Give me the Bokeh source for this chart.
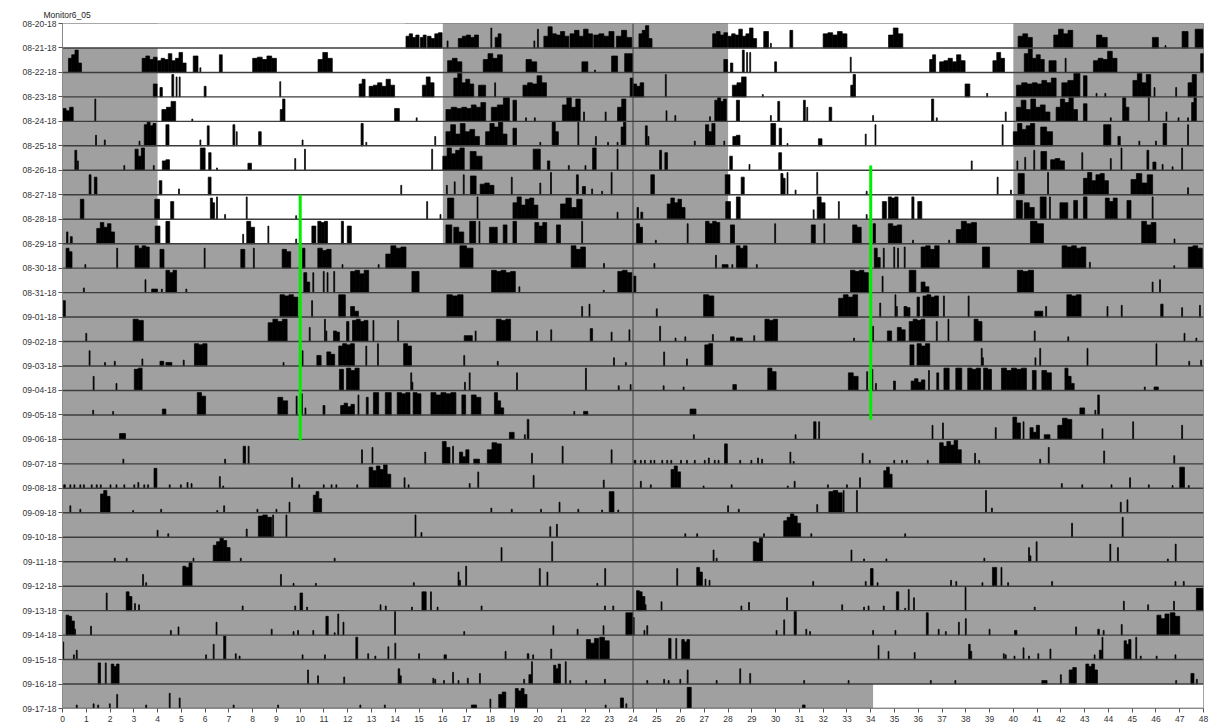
from bokeh.plotting import figure
from bokeh.models import FixedTicker, Range1d, ColumnDataSource
from bokeh.embed import file_html
from bokeh.resources import INLINE

# Row labels (one per day boundary)
DATES = ["08-20-18", "08-21-18", "08-22-18", "08-23-18", "08-24-18", "08-25-18",
         "08-26-18", "08-27-18", "08-28-18", "08-29-18", "08-30-18", "08-31-18",
         "09-01-18", "09-02-18", "09-03-18", "09-04-18", "09-05-18", "09-06-18",
         "09-07-18", "09-08-18", "09-09-18", "09-10-18", "09-11-18", "09-12-18",
         "09-13-18", "09-14-18", "09-15-18", "09-16-18", "09-17-18"]
HOUR_TICKS = list(range(49))

# Light schedule: LD 12:12 (lights 04:00-16:00) for the first nine days, then DD
LIGHTS_ON = 4.0
LIGHTS_OFF = 16.0
LD_DAY_COUNT = 9
RECORD_START = 14.4   # hour of first recorded bin on the first day
RECORD_END = 10.1     # hour of last recorded bin on the last day

# Activity per day: (hour, height) single bins, or (start, end, height | [heights...]) bouts.
# Heights are a fraction of the row height.
D0820 = [(14.45, 15.0, [0.5, 0.6, 0.45, 0.55]), (15.05, 15.3, [0.45, 0.55]),
         (15.35, 15.97, [0.5, 0.4, 0.6, 0.65]), (16.2, 0.3),
         (16.65, 17.5, [0.4, 0.5, 0.55, 0.45, 0.55]), (18.04, 0.85), (18.2, 18.45, [0.45, 0.6]),
         (19.85, 0.3), (20.0, 0.8), (20.25, 21.3, [0.5, 0.9, 0.6, 0.55, 0.7, 0.5]),
         (21.35, 22.3, [0.6, 0.75, 0.5, 0.8, 0.6]), (22.35, 23.2, [0.55, 0.6, 0.5, 0.7]),
         (23.3, 23.95, [0.5, 0.75, 0.45])]
D0821 = [(0.25, 0.8, [0.6, 0.75, 0.95, 0.4]), (3.35, 3.98, [0.6, 0.7, 0.55, 0.65]),
         (4.0, 5.2, [0.5, 0.6, 0.55, 0.8, 0.5, 0.6, 0.85, 0.4]), (5.5, 5.7, 0.7), (5.8, 0.2),
         (6.6, 6.72, 0.75), (8.0, 9.0, [0.6, 0.65, 0.55, 0.7, 0.6]), (10.75, 11.35, [0.55, 0.85, 0.6]),
         (16.2, 16.8, [0.5, 0.6, 0.45]), (17.7, 18.5, [0.55, 0.8, 0.6, 0.75]),
         (19.5, 19.95, [0.55, 0.45]), (21.85, 22.1, 0.45), (22.4, 0.1),
         (23.1, 23.35, 0.7), (23.65, 23.98, 0.8)]
D0822 = [(3.82, 3.98, 0.55), (4.1, 4.2, 0.4), (4.6, 4.68, 0.95), (4.8, 0.85), (4.93, 0.85),
         (5.96, 6.04, 0.45), (9.16, 0.65), (12.48, 12.73, [0.55, 0.75]),
         (12.9, 13.97, [0.45, 0.5, 0.6, 0.45, 0.75, 0.5]), (15.14, 15.63, [0.5, 0.85, 0.6]),
         (16.46, 17.3, [0.8, 1.0, 0.6, 0.75, 0.55]), (17.5, 17.8, 0.5), (18.2, 0.6),
         (19.37, 20.36, [0.5, 0.6, 0.55, 0.9, 0.6]), (23.88, 24.0, 0.8)]
D0823 = [(0.0, 0.45, [0.55, 0.45, 0.6]), (1.38, 0.95), (4.18, 4.76, [0.5, 0.6, 0.85]), (5.46, 0.1),
         (9.16, 9.36, [0.5, 0.95]), (13.97, 14.17, 0.55), (14.9, 0.15),
         (16.13, 16.8, [0.5, 0.6, 0.55]), (16.8, 17.8, [0.6, 0.55, 0.7, 0.6, 0.8]),
         (18.04, 18.8, [0.6, 0.7, 1.0]), (18.95, 19.1, 0.9), (19.5, 0.15), (19.87, 0.15),
         (21.03, 21.78, [0.7, 1.0, 0.6, 0.95]), (21.94, 0.4), (22.85, 0.4), (23.35, 23.7, [0.6, 0.95])]
D0824 = [(1.41, 0.45), (1.78, 0.25), (3.24, 0.2), (3.44, 3.93, [0.9, 1.0, 0.85, 0.95]),
         (4.35, 4.48, 0.9), (5.8, 0.25), (6.09, 6.17, 0.85), (7.17, 7.25, 0.9), (7.33, 0.6),
         (8.25, 8.36, 0.6), (10.1, 0.25), (12.56, 12.65, 0.95), (12.78, 0.15), (15.68, 0.4),
         (16.13, 17.54, [0.6, 0.9, 0.5, 0.95, 0.6, 0.7, 0.4]), (17.8, 18.7, [0.6, 0.95, 0.8, 1.0, 0.5]),
         (18.95, 19.1, 0.75), (20.1, 0.15), (20.6, 20.86, [1.0, 0.6]), (21.7, 1.0), (22.44, 0.4),
         (22.95, 0.15), (23.35, 0.15), (23.5, 23.7, [0.8, 1.0])]
D0825 = [(0.52, 0.6, 0.85), (0.65, 0.4), (2.6, 0.2), (3.05, 3.45, [0.9, 0.6, 0.95]), (3.84, 0.2),
         (4.2, 4.5, [0.4, 0.45]), (5.8, 6.0, 0.95), (6.15, 6.25, 0.75), (6.5, 0.1), (7.8, 7.95, 0.3),
         (9.79, 0.5), (10.2, 0.9), (15.55, 0.9), (16.0, 16.9, [0.6, 0.95, 0.7, 0.85, 0.95]),
         (17.15, 17.65, [0.8, 0.6]), (19.8, 20.1, 0.9), (20.4, 20.5, 0.4), (21.3, 0.2), (22.0, 0.2),
         (22.3, 22.45, 0.95), (23.35, 0.9)]
D0826 = [(1.12, 1.2, 0.85), (1.34, 1.45, 0.75), (4.07, 4.18, 0.6), (4.9, 0.25), (6.13, 6.25, 0.75),
         (14.25, 0.4), (16.17, 0.4), (16.5, 0.55), (16.88, 0.85), (17.16, 17.4, 0.8),
         (17.57, 18.15, [0.45, 0.5, 0.4]), (18.9, 0.75), (20.1, 0.5), (20.55, 0.95),
         (21.62, 21.7, 0.85), (21.87, 22.0, 0.35), (22.28, 0.25), (22.7, 0.15), (23.1, 0.95)]
D0827 = [(0.75, 0.9, 0.85), (3.88, 4.08, 0.85), (4.55, 4.68, 0.75), (6.22, 6.4, [0.9, 0.7]),
         (6.5, 0.95), (6.84, 0.2), (7.75, 0.95), (9.83, 0.15), (15.34, 0.75), (15.9, 0.2),
         (16.2, 16.46, 0.9), (17.46, 0.95), (18.95, 20.0, [0.7, 0.95, 0.6, 0.85, 0.9, 0.6]),
         (20.95, 21.86, [0.65, 0.9, 0.5, 0.85]), (23.35, 0.3)]
D0828 = [(0.17, 0.23, 0.5), (0.33, 0.41, 0.3), (1.44, 2.19, [0.65, 0.9, 0.7, 0.85, 0.5]),
         (3.9, 4.1, 0.75), (4.35, 4.51, 0.95), (7.6, 0.4), (7.75, 8.08, [0.95, 0.7]), (8.66, 0.75),
         (9.83, 0.2), (10.49, 10.66, 0.75), (10.74, 11.15, [0.95, 0.9, 0.95]), (11.73, 11.82, 0.95),
         (11.98, 12.15, 0.75), (16.13, 16.38, 0.8), (16.46, 16.88, [0.7, 0.5]), (17.13, 17.38, 0.95),
         (17.54, 0.95), (17.96, 18.29, 0.7), (18.54, 18.7, 0.8), (18.95, 19.1, 0.95),
         (19.87, 20.37, [0.9, 0.75, 0.9]), (20.78, 20.95, 0.8), (21.86, 0.95)]
D0829 = [(0.15, 0.4, [0.85, 0.7]), (0.96, 0.15), (2.3, 0.85), (3.05, 3.65, [0.95, 0.85, 0.95, 0.9]),
         (4.1, 4.27, 0.8), (5.98, 0.85), (7.5, 7.67, 0.8), (8.05, 0.85), (9.24, 9.6, [0.8, 0.7]),
         (10.1, 10.2, 0.85), (10.74, 11.3, [0.85, 0.75, 0.8]), (11.78, 0.15), (13.3, 0.15),
         (13.6, 14.45, [0.6, 0.95, 0.85, 0.9]), (16.72, 17.27, [0.95, 0.85]),
         (21.4, 22.0, [0.95, 0.8, 0.9]), (22.78, 0.2)]
D0830 = [(0.9, 0.2), (3.49, 0.55), (3.75, 4.0, 0.15), (4.18, 0.15), (4.35, 4.8, [0.95, 0.85, 0.95]),
         (5.21, 0.15), (10.15, 10.4, [0.85, 0.45]), (10.55, 0.85), (10.99, 0.9), (11.15, 0.85),
         (11.43, 0.9), (12.12, 12.88, [0.9, 0.95, 0.8, 0.95]), (14.7, 15.0, 0.9),
         (18.05, 19.05, [0.95, 0.9, 0.95, 0.85, 0.9]), (19.22, 0.25), (22.77, 0.1),
         (23.36, 23.95, [0.9, 0.95, 0.85])]
D0831 = [(0.03, 0.12, 0.7), (9.15, 9.9, [0.95, 0.9, 0.95, 0.85]), (10.5, 0.7), (11.62, 11.9, 0.95),
         (12.12, 12.45, [0.45, 0.25]), (16.17, 16.85, [0.95, 0.9, 0.95]), (21.86, 0.45), (22.17, 0.55)]
D0901 = [(1.0, 0.35), (2.97, 3.4, [0.95, 0.9]), (8.65, 9.45, [0.8, 0.95, 0.85, 0.95]), (10.4, 0.6),
         (11.04, 0.95), (11.1, 0.45), (11.4, 11.65, [0.45, 0.4]), (11.95, 12.05, 0.85),
         (12.2, 12.85, [0.9, 0.95, 0.85, 0.9]), (13.08, 0.9), (14.12, 0.9), (16.9, 17.24, 0.25),
         (17.38, 0.45), (18.25, 18.85, [0.95, 0.9, 0.95]), (19.96, 0.45), (20.56, 0.5),
         (22.2, 22.3, 0.55), (23.1, 0.4), (23.85, 0.5)]
D0902 = [(1.14, 0.65), (1.79, 0.15), (2.2, 0.2), (3.36, 0.3), (4.1, 4.26, 0.2), (4.35, 4.6, 0.15),
         (5.1, 0.25), (5.55, 6.08, [0.95, 0.9, 0.95]), (9.3, 0.15), (10.1, 0.65), (10.7, 10.88, 0.45),
         (11.12, 11.45, [0.6, 0.5]), (11.62, 12.28, [0.85, 0.95, 0.9, 0.95]), (12.78, 0.85),
         (13.27, 0.95), (14.35, 14.68, [0.95, 0.85]), (16.9, 0.45), (18.31, 0.2), (23.2, 0.35),
         (23.7, 0.15)]
D0903 = [(1.31, 0.6), (2.27, 0.3), (3.02, 3.35, [0.9, 0.95]), (11.65, 11.82, 0.9),
         (11.95, 12.48, [0.95, 0.85, 0.95]), (14.67, 0.75), (14.72, 0.35), (16.93, 0.35),
         (17.13, 0.75), (19.12, 0.75), (22.02, 0.95), (23.4, 0.2), (23.9, 0.25)]
D0904 = [(1.29, 0.2), (2.13, 0.15), (4.2, 4.35, 0.25), (5.67, 6.02, [0.95, 0.8]),
         (9.06, 9.47, [0.75, 0.6]), (9.85, 0.8), (10.07, 0.9), (10.22, 0.3), (10.96, 11.04, 0.4),
         (11.7, 12.28, [0.4, 0.5, 0.35, 0.45]), (12.45, 0.85), (12.78, 12.86, 0.75),
         (13.08, 13.3, 0.95), (13.58, 13.83, 0.95), (14.08, 14.62, [0.95, 0.9, 0.95]),
         (14.75, 15.08, [0.95, 0.9]), (15.5, 16.55, [0.95, 0.85, 0.95, 0.9, 0.95]),
         (16.8, 16.96, 0.85), (17.2, 17.6, [0.85, 0.75]), (18.17, 18.56, [0.95, 0.6, 0.3]),
         (21.53, 0.15), (21.92, 22.1, 0.15)]
D0905 = [(2.4, 2.65, 0.25), (18.8, 19.0, 0.3), (19.45, 0.2), (19.55, 19.62, 0.85)]
D0906 = [(2.56, 0.2), (6.84, 0.2), (7.6, 7.7, 0.75), (7.83, 0.75), (12.6, 0.6), (13.04, 0.7),
         (15.26, 0.5), (15.98, 16.3, [0.95, 0.7]), (16.43, 0.75), (16.7, 17.1, [0.5, 0.3, 0.6]),
         (17.3, 17.54, 0.2), (17.87, 18.46, [0.6, 0.9, 0.85]), (19.75, 0.45), (21.04, 0.75),
         (23.1, 0.6)]
D0907 = [(0.05, 0.12, 0.15), (0.33, 0.15), (0.5, 0.15), (0.75, 0.15), (0.9, 0.15), (1.23, 0.15),
         (1.44, 0.15), (1.61, 0.15), (2.02, 0.15), (2.27, 0.15), (2.6, 0.15), (3.02, 0.15),
         (3.19, 0.25), (3.44, 0.15), (3.6, 0.15), (3.85, 3.97, 0.85), (4.51, 0.15), (4.98, 0.15),
         (5.26, 0.25), (5.43, 0.2), (6.62, 0.5), (6.76, 0.1), (9.66, 0.45), (9.96, 0.15),
         (10.99, 0.15), (11.32, 0.15), (11.52, 0.15), (12.4, 0.15),
         (12.9, 13.81, [0.9, 0.75, 0.95, 0.8, 1.0, 0.6]), (14.39, 0.45), (14.56, 0.15),
         (17.13, 0.2), (17.49, 0.7), (19.82, 0.55), (22.77, 0.35)]
D0908 = [(0.33, 0.3), (0.75, 0.15), (1.6, 2.0, [0.8, 0.95, 0.7]), (2.97, 0.1), (4.15, 0.15),
         (6.51, 0.1), (6.8, 0.3), (8.2, 0.15), (9.0, 0.15), (9.55, 0.45),
         (10.55, 10.9, [0.75, 0.9, 0.6]), (18.04, 0.2), (18.9, 0.15), (20.13, 0.15), (20.91, 0.45),
         (21.7, 0.15), (22.7, 0.12), (23.0, 23.2, 0.9), (23.38, 0.12)]
D0909 = [(4.0, 0.3), (4.45, 0.15), (7.75, 0.35), (8.24, 8.8, [0.9, 0.95, 0.85]), (8.86, 0.95),
         (9.42, 0.95), (14.85, 0.95), (15.1, 0.2), (20.52, 0.45), (20.8, 0.55)]
D0910 = [(2.2, 0.15), (2.7, 0.15), (5.51, 0.15), (6.34, 7.05, [0.7, 0.85, 1.0, 0.9, 0.6]),
         (7.5, 0.15), (11.45, 0.15), (18.47, 0.6), (20.6, 0.85)]
D0911 = [(3.39, 0.5), (3.52, 0.15), (5.06, 5.45, [0.85, 0.8, 1.0]), (9.19, 0.5), (9.72, 0.12),
         (10.66, 0.12), (14.78, 0.15), (16.66, 0.6), (16.72, 0.25), (16.98, 0.85), (20.08, 0.75),
         (20.4, 0.6), (22.5, 0.12), (22.83, 0.75)]
D0912 = [(1.86, 0.75), (2.68, 2.92, [0.8, 0.6]), (3.05, 0.3), (3.22, 0.25), (7.58, 0.2), (9.79, 0.2),
         (9.99, 10.1, 0.75), (10.29, 0.15), (13.38, 0.25), (13.6, 0.2), (14.7, 0.15),
         (15.12, 15.3, 0.8), (15.5, 0.8), (15.78, 0.15), (17.63, 0.2), (22.82, 0.2), (23.17, 0.2)]
D0913 = [(0.15, 0.5, [0.85, 0.8, 0.6]), (0.53, 0.25), (1.2, 0.38), (4.56, 0.2), (4.88, 0.35),
         (6.48, 0.55), (8.8, 0.25), (9.72, 0.15), (9.91, 0.2), (10.55, 0.2), (11.08, 11.18, 0.8),
         (11.45, 0.1), (11.6, 0.9), (11.82, 0.55), (13.99, 1.0), (16.9, 0.15), (20.65, 0.4),
         (21.67, 0.25), (22.76, 0.4), (23.7, 23.98, 0.95)]
D0914 = [(0.03, 0.75), (0.48, 0.2), (0.6, 0.4), (6.04, 0.2), (6.36, 0.65), (6.78, 6.87, 1.0),
         (7.29, 0.25), (7.45, 0.15), (10.1, 0.2), (11.04, 0.2), (12.34, 12.42, 0.95), (12.86, 0.25),
         (13.16, 0.15), (13.71, 0.55), (14.0, 0.7), (15.0, 0.25), (16.05, 16.15, 0.2), (18.64, 0.35),
         (19.55, 19.62, 0.25), (19.8, 0.2), (20.56, 0.45), (22.04, 22.55, [0.85, 0.7, 0.9]),
         (22.6, 23.0, [0.95, 0.8])]
D0915 = [(1.5, 1.6, 0.9), (1.82, 0.9), (2.05, 2.38, [0.85, 0.75, 0.85]), (10.33, 0.6), (10.75, 0.35),
         (11.85, 0.3), (14.12, 14.25, [0.65, 0.35]), (15.6, 0.25), (15.68, 0.2), (16.05, 0.15),
         (16.43, 0.5), (16.66, 0.15), (17.05, 0.25), (17.56, 0.45), (19.42, 0.2),
         (19.62, 19.72, 0.4), (19.75, 0.95), (20.66, 20.95, [0.8, 0.65, 0.85]), (21.17, 0.95),
         (21.36, 0.15), (22.03, 0.15), (22.82, 0.2)]
D0916 = [(0.6, 0.15), (1.31, 0.2), (1.5, 0.15), (1.99, 0.2), (2.3, 0.6), (3.52, 0.15), (4.51, 0.65),
         (4.93, 0.45), (7.2, 0.15), (9.07, 0.15), (12.53, 0.15), (13.56, 0.15), (17.2, 17.42, 0.15),
         (18.0, 0.4), (18.35, 18.65, [0.6, 0.7]), (19.05, 19.54, [0.85, 0.75, 0.85, 0.6]),
         (22.85, 0.15), (23.47, 23.6, 0.45), (23.72, 0.2)]
D0917 = [(2.28, 2.45, 0.9), (7.13, 7.24, 0.15)]

DAY_ACTIVITY = [D0820, D0821, D0822, D0823, D0824, D0825, D0826, D0827, D0828, D0829,
                D0830, D0831, D0901, D0902, D0903, D0904, D0905, D0906, D0907, D0908,
                D0909, D0910, D0911, D0912, D0913, D0914, D0915, D0916, D0917]

# Reference lines: hour, first row, last row (rows counted from the top)
MARK_HOURS = [10.0, 34.0]
MARK_FROM_ROW = [7.0, 5.8]
MARK_TO_ROW = [17.05, 16.2]

BIN_W = 0.04
DARK = "#a0a0a0"
N_ROWS = len(DATES) - 1
FONT = "Liberation Sans"


def white_spans(day):
    spans = []
    if day < LD_DAY_COUNT:
        spans.append((LIGHTS_ON, LIGHTS_OFF))
    if day == 0:
        spans.append((0.0, RECORD_START))
    if day == len(DAY_ACTIVITY) - 1:
        spans.append((RECORD_END, 24.0))
    return spans


def expand(entries):
    for e in entries:
        if len(e) == 2:
            x, h = e
            yield x - BIN_W / 2, x + BIN_W / 2, h
        else:
            s, t, h = e
            if isinstance(h, (list, tuple)):
                w = (t - s) / len(h)
                for j, hj in enumerate(h):
                    yield s + j * w, s + (j + 1) * w, hj
            else:
                yield s, t, h


bg = dict(left=[], right=[], bottom=[], top=[])
bars = dict(left=[], right=[], bottom=[], top=[])

for row in range(N_ROWS):
    y0 = N_ROWS - 1 - row
    for half in (0, 1):
        day = row + half
        off = 24.0 * half
        for s, t in white_spans(day):
            bg["left"].append(off + s)
            bg["right"].append(off + t)
            bg["bottom"].append(y0)
            bg["top"].append(y0 + 1)
        for s, t, h in expand(DAY_ACTIVITY[day]):
            bars["left"].append(off + s)
            bars["right"].append(off + t)
            bars["bottom"].append(y0)
            bars["top"].append(y0 + h * 0.96)

p = figure(width=1216, height=725, output_backend="svg", toolbar_location=None,
           x_range=Range1d(0, 48), y_range=Range1d(0, N_ROWS),
           min_border_left=62, min_border_right=13, min_border_top=23, min_border_bottom=17,
           background_fill_color=DARK, border_fill_color="white")

p.title.text = "Monitor6_05"
p.title.text_font = FONT
p.title.text_font_size = "8.5px"
p.title.text_font_style = "normal"
p.title.text_color = "#222222"
p.title.align = "left"
p.title.offset = -19
p.title.standoff = 7

p.quad(source=ColumnDataSource(bg), left="left", right="right", bottom="bottom", top="top",
       fill_color="white", line_color=None)
# outline in black so adjacent bins merge and single bins stay visible
p.quad(source=ColumnDataSource(bars), left="left", right="right", bottom="bottom", top="top",
       fill_color="black", line_color="black", line_width=0.7)

# row baselines and the midnight divider
p.multi_line(xs=[[0, 48] for _ in range(N_ROWS)], ys=[[k, k] for k in range(N_ROWS)],
             line_color="#3c3c3c", line_width=1.4)
p.line(x=[24, 24], y=[0, N_ROWS], line_color="#3c3c3c", line_width=1)

p.multi_line(xs=[[h, h] for h in MARK_HOURS],
             ys=[[N_ROWS - a, N_ROWS - b] for a, b in zip(MARK_FROM_ROW, MARK_TO_ROW)],
             line_color="#00ee00", line_width=3)

p.xgrid.visible = False
p.ygrid.visible = False
p.outline_line_color = "#8a8a8a"

p.xaxis.ticker = FixedTicker(ticks=HOUR_TICKS)
p.yaxis.ticker = FixedTicker(ticks=[N_ROWS - k for k in range(len(DATES))])
p.yaxis.major_label_overrides = {N_ROWS - k: d for k, d in enumerate(DATES)}
for ax in (p.xaxis, p.yaxis):
    ax.major_label_text_font = FONT
    ax.major_label_text_font_size = "8.5px"
    ax.major_label_text_color = "#333333"
    ax.axis_line_color = "#8a8a8a"
    ax.major_tick_line_color = "#555555"
    ax.major_tick_out = 4
    ax.major_tick_in = 0
    ax.minor_tick_line_color = None
p.xaxis.major_label_standoff = 3
p.yaxis.major_label_standoff = 2

open("out.html", "w").write(file_html(p, INLINE))
